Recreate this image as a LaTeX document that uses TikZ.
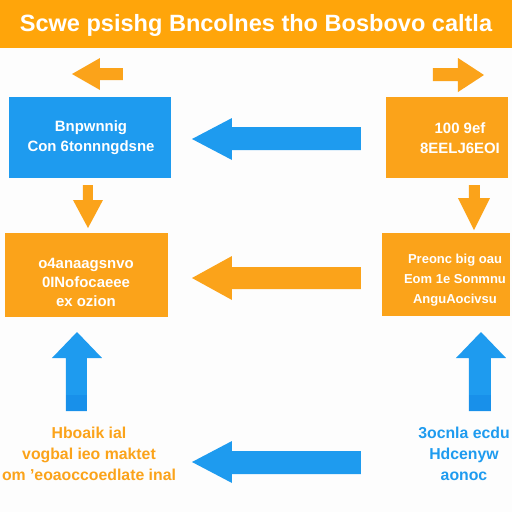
\documentclass[tikz,border=0pt]{standalone}
\usepackage{fontspec}
\setmainfont{Liberation Sans}
\definecolor{org}{HTML}{FBA31A}
\definecolor{banner}{HTML}{FFA50A}
\definecolor{blu}{HTML}{1E9BEF}
\definecolor{bludark}{HTML}{1890EA}
\definecolor{bg}{HTML}{FDFDFD}
\begin{document}
\begin{tikzpicture}[x=0.02cm,y=-0.02cm,
  box/.style={draw=none,inner sep=0pt},
  boxtxt/.style={text=white,font=\bfseries\fontsize{8.5}{11.3}\selectfont,align=center,inner sep=0pt},
  freetxt/.style={font=\bfseries\fontsize{9}{11.8}\selectfont,align=center,inner sep=0pt},
  orgarrow/.style={fill=org},
  bluarrow/.style={fill=blu}]
\useasboundingbox (0,0) rectangle (512,512);
\clip (0,0) rectangle (512,512);
\fill[bg] (0,0) rectangle (512,512);
% banner
\fill[banner] (0,0) rectangle (512,48);
\node[text=white,font=\bfseries\fontsize{13.4}{16}\selectfont,inner sep=0pt] (title) at (256,25) {Scwe psishg Bncolnes tho Bosbovo caltla};
% boxes
\node[box,fill=blu,minimum width=3.24cm,minimum height=1.62cm] (b1) at (90,137.5) {};
\node[boxtxt] (t1) at (91,138) {Bnpwnnig\\Con 6tonnngdsne};
\node[box,fill=org,minimum width=2.44cm,minimum height=1.62cm] (b2) at (447,137.5) {};
\node[boxtxt] (t2) at (460,138.5) {100 9ef\\8EELJ6EOI};
\node[box,fill=org,minimum width=3.26cm,minimum height=1.68cm] (b3) at (86.5,275) {};
\node[boxtxt,font=\bfseries\fontsize{8.5}{10.8}\selectfont] (t3) at (86,282) {o4anaagsnvo\\0INofocaeee\\ex ozion};
\node[box,fill=org,minimum width=2.56cm,minimum height=1.66cm] (b4) at (446,274.5) {};
\node[boxtxt,font=\bfseries\fontsize{7.4}{11.3}\selectfont] (t4) at (455,280) {Preonc big oau\\Eom 1e Sonmnu\\AnguAocivsu};
% free texts
\node[freetxt,text=org] (t5) at (89,454) {Hboaik ial\\vogbal ieo maktet\\om 'eoaoccoedlate inal};
\node[freetxt,text=blu] (t6) at (464,454) {3ocnla ecdu\\Hdcenyw\\aonoc};
% small orange arrows
\fill[orgarrow] (72,74) -- (100,58) -- (100,68) -- (123,68) -- (123,80) -- (100,80) -- (100,90) -- cycle;
\fill[orgarrow] (484,75) -- (458,58) -- (458,68) -- (433,68) -- (433,81) -- (458,81) -- (458,92) -- cycle;
% big horizontal arrows
\fill[bluarrow] (192,139) -- (232,118) -- (232,127) -- (361,127) -- (361,150) -- (232,150) -- (232,160) -- cycle;
\fill[orgarrow] (192,278) -- (232,256) -- (232,267) -- (361,267) -- (361,289) -- (232,289) -- (232,300) -- cycle;
\fill[bluarrow] (192,462) -- (232,441) -- (232,451) -- (361,451) -- (361,474) -- (232,474) -- (232,483) -- cycle;
% down arrows
\fill[orgarrow] (83,185) -- (93,185) -- (93,200) -- (103,200) -- (88,228) -- (73,200) -- (83,200) -- cycle;
\fill[orgarrow] (469,185) -- (480,185) -- (480,198) -- (490,198) -- (474,230) -- (458,198) -- (469,198) -- cycle;
% up arrows
\fill[bluarrow] (77,332) -- (102,358) -- (87,358) -- (87,411) -- (66,411) -- (66,358) -- (52,358) -- cycle;
\fill[bludark] (66,395) rectangle (87,411);
\fill[bluarrow] (481,332) -- (506,358) -- (491,358) -- (491,411) -- (469,411) -- (469,358) -- (456,358) -- cycle;
\fill[bludark] (469,395) rectangle (491,411);
\end{tikzpicture}
\end{document}
